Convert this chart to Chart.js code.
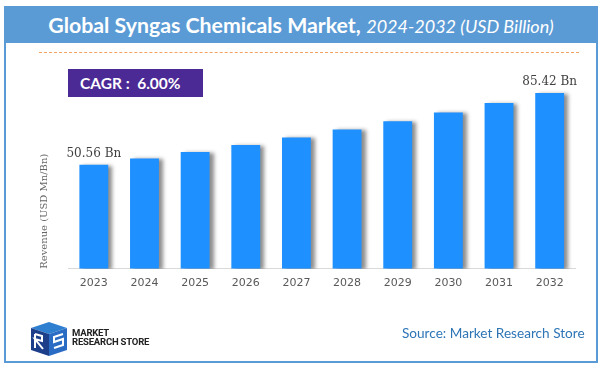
<!DOCTYPE html>
<html>
<head>
<meta charset="utf-8">
<script src="https://cdn.jsdelivr.net/npm/chart.js@4.4.1/dist/chart.umd.min.js"></script>
<style>
  html, body { margin: 0; padding: 0; background: #fff; }
  #wrap { position: relative; width: 603px; height: 373px; overflow: hidden; }
  #frame { position: absolute; left: 4px; top: 6px; width: 590px; height: 355px; border: 2px solid #5b9bd5; border-top: none; }
  #header { position: absolute; left: 4px; top: 6px; width: 594px; height: 37px; background: #5b9bd5;
            color: #fff; text-align: center; line-height: 38px; font-family: Lato, sans-serif; font-size: 21.3px; white-space: nowrap; }
  #header b { font-weight: 700; }
  #header i { font-weight: 400; font-size: 18px; }
  #dash { position: absolute; left: 39px; top: 52px; width: 540px; height: 0; border-top: 1px dashed #f4a261; }
  #cagr { position: absolute; left: 68px; top: 69px; width: 135px; height: 28px; background: #4b2a96;
          color: #fff; font-family: Lato, sans-serif; font-weight: 700; font-size: 15.5px; line-height: 28px; box-sizing: border-box; padding-left: 12px; }
  #source { position: absolute; left: 402px; top: 325px; font-family: Lato, sans-serif; font-size: 13.6px; color: #2e75b6; white-space: nowrap; }
  #logo { position: absolute; left: 27px; top: 322px; width: 135px; height: 34px; }
  #logo .txt { position: absolute; left: 45px; top: 7px; font-family: Roboto, sans-serif; font-weight: 700; font-size: 9.5px; line-height: 8.5px; color: #222; letter-spacing: -0.2px; }
  canvas { position: absolute; left: 0; top: 0; }
</style>
</head>
<body>
<div id="wrap">
  <div id="frame"></div>
  <div id="header"><b>Global Syngas Chemicals Market,</b> <i>2024-2032 (USD Billion)</i></div>
  <div id="dash"></div>
  <div id="cagr">CAGR :&nbsp; 6.00%</div>
  <canvas id="marketChart" width="603" height="373"></canvas>
  <div id="logo">
    <svg width="44" height="34" viewBox="0 0 44 34">
      <polygon points="4,6 22,0 40,6 22,12" fill="#2f7fd0"/>
      <polygon points="4,6 22,12 22,34 4,28" fill="#1d3f8a"/>
      <polygon points="22,12 40,6 40,28 22,34" fill="#2a6cc4"/>
      <path d="M8,12 L8,26 M8,12 L15,14 L15,19 L8,17 L16,27" stroke="#fff" stroke-width="2" fill="none"/>
      <path d="M36,12 L27,15 L27,20 L36,17 L36,23 L27,26" stroke="#fff" stroke-width="2" fill="none"/>
    </svg>
    <div class="txt">MARKET<br>RESEARCH STORE</div>
  </div>
  <div id="source">Source: Market Research Store</div>
</div>
<script>
// chart data
const years = ['2023', '2024', '2025', '2026', '2027', '2028', '2029', '2030', '2031', '2032'];
const revenue = [50.56, 53.6, 56.8, 60.2, 63.8, 67.7, 71.7, 76.0, 80.6, 85.42];
const labelledBars = [0, 9]; // only first and last bar carry a value label
const yMax = 100;

// Plugin: soft grey shadow to the right of each bar
const barShadow = {
  id: 'barShadow',
  beforeDatasetsDraw(chart) {
    const ctx = chart.ctx;
    ctx.save();
    ctx.shadowColor = 'rgba(0, 0, 0, 0.45)';
    ctx.shadowBlur = 4;
    ctx.shadowOffsetX = 4;
    ctx.shadowOffsetY = 1;
  },
  afterDatasetsDraw(chart) {
    chart.ctx.restore();
  }
};

// Plugin: "xx.xx Bn" above the first and last bar
const valueLabels = {
  id: 'valueLabels',
  afterDatasetsDraw(chart) {
    const ctx = chart.ctx;
    const meta = chart.getDatasetMeta(0);
    ctx.save();
    ctx.font = '12px "DejaVu Serif", serif';
    ctx.fillStyle = '#404040';
    ctx.textAlign = 'center';
    ctx.textBaseline = 'bottom';
    labelledBars.forEach(i => {
      const bar = meta.data[i];
      ctx.fillText(revenue[i].toFixed(2) + ' Bn', bar.x, bar.y - 5);
    });
    ctx.restore();
  }
};

const ctx = document.getElementById('marketChart').getContext('2d');
new Chart(ctx, {
  type: 'bar',
  data: {
    labels: years,
    datasets: [{
      label: 'Revenue',
      data: revenue,
      backgroundColor: '#1e90ff',
      borderWidth: 0,
      barPercentage: 0.57,
      categoryPercentage: 1.0
    }]
  },
  options: {
    responsive: false,
    animation: false,
    layout: { padding: { left: 34.5, right: 28, top: 63, bottom: 75 } },
    plugins: {
      legend: { display: false },
      tooltip: { enabled: false }
    },
    scales: {
      x: {
        grid: { display: false, drawTicks: false },
        border: { display: true, color: '#d9d9d9', width: 1 },
        ticks: { color: '#595959', font: { family: 'DejaVu Sans', size: 11 }, padding: 8 }
      },
      y: {
        min: 0,
        max: yMax,
        grid: { display: false, drawTicks: false },
        border: { display: false },
        ticks: { display: false },
        title: {
          display: true,
          text: 'Revenue (USD Mn/Bn)',
          align: 'start',
          color: '#666666',
          font: { family: 'DejaVu Serif', size: 10 },
          padding: { top: 4, bottom: 18 }
        }
      }
    }
  },
  plugins: [barShadow, valueLabels]
});
</script>
</body>
</html>
